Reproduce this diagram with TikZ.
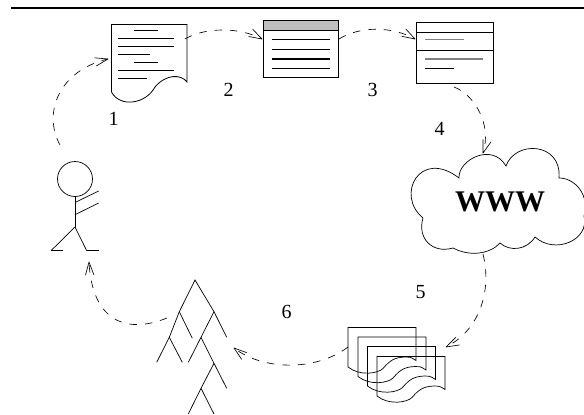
\documentclass[tikz,border=0pt]{standalone}
\usepackage{fontspec}
\setmainfont{Liberation Serif}
\usetikzlibrary{arrows.meta}
\pgfdeclarearrow{
  name=Long Barb,
  setup code={\pgfarrowssettipend{0pt}\pgfarrowssetlineend{0pt}\pgfarrowssetbackend{-13pt}\pgfarrowssetvisualbackend{-13pt}},
  drawing code={
    \pgfsetdash{}{0pt}\pgfsetroundjoin
    \pgfpathmoveto{\pgfqpoint{-13pt}{4.2pt}}
    \pgfpathlineto{\pgfqpoint{0pt}{0pt}}
    \pgfpathlineto{\pgfqpoint{-13pt}{-4.2pt}}
    \pgfusepathqstroke}
}
\tikzset{
  step label/.style={font=\fontsize{20}{20}\selectfont, inner sep=0pt},
  link/.style={line width=0.65pt, dash pattern=on 7.5pt off 8pt, -{Long Barb}},
  boxnode/.style={draw, inner sep=0pt, line width=0.8pt},
  textline/.style={line width=0.8pt}
}

\begin{document}
\begin{tikzpicture}[x=1pt, y=-1pt, line width=0.7pt]
  \useasboundingbox (0,0) rectangle (584,415);
  \draw[line width=2pt] (11,7.5) -- (584,7.5); % top rule

  % page
  \draw[line width=0.8pt] (111.5,24.5) -- (187,24.5) -- (187,82) .. controls (181,74) and (166,74) .. (155,87)
    .. controls (146,104) and (120,108) .. (111.5,92) -- cycle;
  \node[inner sep=0pt, minimum width=75.5pt, minimum height=79pt] (page) at (149.25,64) {};
  \foreach \xa/\xb/\yy in {134/158/30, 118/174/38, 118/174/46, 118/150/54, 134/158/62, 118/174/70, 118/147/78}
    \draw[textline] (\xa,\yy) -- (\xb,\yy);

  % window
  \node[boxnode, minimum width=74.5pt, minimum height=56pt] (window) at (300.75,49) {};
  \fill[gray!50] (window.north west) rectangle (338,30);
  \draw[line width=0.8pt] (263.5,30) -- (338,30);
  \draw[line width=0.8pt] (window.north west) rectangle (window.south east);
  \foreach \yy/\lw in {39.5/0.8, 49/0.7, 59/1.2, 68.5/0.7}
    \draw[line width=\lw pt] (271.5,\yy) -- (329.5,\yy);

  % form
  \node[boxnode, minimum width=77.5pt, minimum height=61pt] (form) at (454.75,53) {};
  \draw (416,32.5) -- (493.5,32.5);
  \draw (416,50.5) -- (493.5,50.5);
  \draw[gray] (425,39.5) -- (464,39.5);
  \draw[gray, line width=1.1pt] (425,59) -- (483,59);
  \draw (425,68.5) -- (454,68.5);

  % cloud
  \draw (423,218) .. controls (395,195) and (420,148) .. (459,178)
    .. controls (458,160) and (492,142) .. (506,166)
    .. controls (515,140) and (562,142) .. (559,178)
    .. controls (575,178) and (590,195) .. (584,216)
    .. controls (590,240) and (555,255) .. (535,237)
    .. controls (527,250) and (510,252) .. (500,243)
    .. controls (490,254) and (470,257) .. (453,248)
    .. controls (432,254) and (417,238) .. (423,218);
  \node[font=\fontsize{30}{30}\selectfont\bfseries, inner sep=0pt] (cloud) at (500,202) {WWW};

  % stack of pages
  \foreach \xx/\yy in {348/327.5, 358/337, 367.5/346.5, 377/356.5}
    \draw[shift={(\xx,\yy)}] (0,0) -- (68,0) -- (68,33) .. controls (63,29.5) and (60,29) .. (57,29.5)
      .. controls (46,30) and (42,33) .. (35,41) .. controls (30,46) and (12,49) .. (0,39.5) -- cycle;
  \node[inner sep=0pt, minimum width=97pt, minimum height=75pt] (stack) at (396.5,365) {};

  % tree
  \draw (156.7,362.3) -- (169.3,337.3) -- (179.3,311.7) -- (195,280) -- (214,311.7) -- (226.7,337.3);
  \draw (169.3,337.3) -- (182.3,362.3);
  \draw (179.3,311.7) -- (192.3,338.3);
  \draw (214,311.7) -- (201,337.3) -- (188.3,362.3);
  \draw (201,337.3) -- (214,363.3) -- (226.7,388.3);
  \draw (214,363.3) -- (201,388.3) -- (188.3,414);
  \draw (201,388.3) -- (214,414);
  \node[inner sep=0pt, minimum width=70pt, minimum height=134pt] (tree) at (191.7,347) {};

  % person
  \node[draw, circle, inner sep=0pt, minimum size=35pt] (head) at (75,179) {};
  \draw[line width=0.9pt] (head.south) -- (75,227);
  \draw (51,250.7) -- (75,227) -- (86.7,250.7);
  \draw (51,250.7) -- (63,250.7);
  \draw (86.7,250.7) -- (98.7,250.7);
  \draw (75,202.5) -- (98.7,191);
  \draw (75,214.7) -- (98.7,203);

  % connector ends
  \coordinate (headout) at (60,145);
  \coordinate (pagein) at (108,59);
  \coordinate (pageout) at (185,39);
  \coordinate (windowin) at (262,39);
  \coordinate (windowout) at (339,39);
  \coordinate (formin) at (415,39);
  \coordinate (formout) at (454,87);
  \coordinate (cloudin) at (483,153);
  \coordinate (cloudout) at (483,254);
  \coordinate (stackin) at (446,347);
  \coordinate (stackout) at (348,347);
  \coordinate (treein) at (234,348);
  \coordinate (treeout) at (167,318);
  \coordinate (personin) at (89,262);

  \draw[link] (headout) .. controls (42,112) and (60,70) .. (pagein);
  \draw[link] (pageout) .. controls (205,27) and (240,27) .. (windowin);
  \draw[link] (windowout) .. controls (360,26) and (392,26) .. (formin);
  \draw[link] (formout) .. controls (475,95) and (492,125) .. (cloudin);
  \draw[link] (cloudout) .. controls (492,290) and (480,330) .. (stackin);
  \draw[link] (stackout) .. controls (315,372) and (262,370) .. (treein);
  \draw[link] (treeout) .. controls (125,335) and (92,320) .. (personin);

  \node[step label] (one) at (113.7,119) {1};
  \node[step label] (two) at (228.7,90) {2};
  \node[step label] (three) at (372.7,90) {3};
  \node[step label] (four) at (439.7,129) {4};
  \node[step label] (five) at (420.7,291.7) {5};
  \node[step label] (six) at (286.7,311.7) {6};
\end{tikzpicture}
\end{document}
